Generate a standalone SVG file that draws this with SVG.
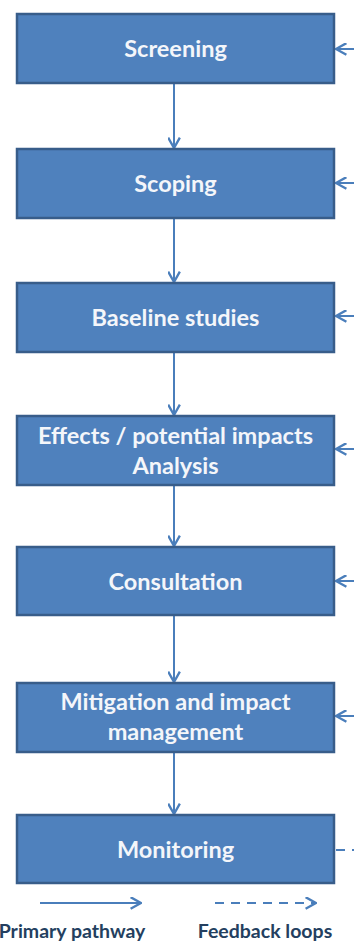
<svg xmlns="http://www.w3.org/2000/svg" width="354" height="947" viewBox="0 0 354 947">
<style>
.box{fill:#4F81BD;stroke:#385D8A;stroke-width:2.5}
.lbl{font-family:Lato,"Open Sans","Liberation Sans",sans-serif;font-weight:bold;font-size:23.5px;fill:#F4F6FA;text-anchor:middle}
.flow{stroke:#4A7EBB;stroke-width:2;fill:none}
.dash{stroke:#4A7EBB;stroke-width:2;fill:none;stroke-dasharray:9 7}
.leg{font-family:Lato,"Open Sans","Liberation Sans",sans-serif;font-weight:bold;font-size:19.5px;fill:#243F60;text-anchor:middle}
</style>
<defs>
<marker id="ah" markerWidth="13" markerHeight="13" refX="9" refY="5" orient="auto" markerUnits="userSpaceOnUse" viewBox="0 0 10 10">
<path d="M1,0.5 L9,5 L1,9.5" fill="none" stroke="#4A7EBB" stroke-width="1.8"/>
</marker>
</defs>
<rect width="354" height="947" fill="#FFFFFF"/>
<g id="connectors">
<line class="flow" x1="174" y1="83" x2="174" y2="148" marker-end="url(#ah)"/>
<line class="flow" x1="174" y1="218" x2="174" y2="282" marker-end="url(#ah)"/>
<line class="flow" x1="174" y1="352" x2="174" y2="415" marker-end="url(#ah)"/>
<line class="flow" x1="174" y1="485" x2="174" y2="546" marker-end="url(#ah)"/>
<line class="flow" x1="174" y1="615" x2="174" y2="682" marker-end="url(#ah)"/>
<line class="flow" x1="174" y1="752" x2="174" y2="814" marker-end="url(#ah)"/>
<line class="flow" x1="354" y1="49" x2="336" y2="49" marker-end="url(#ah)"/>
<line class="flow" x1="354" y1="183" x2="336" y2="183" marker-end="url(#ah)"/>
<line class="flow" x1="354" y1="316" x2="336" y2="316" marker-end="url(#ah)"/>
<line class="flow" x1="354" y1="449" x2="336" y2="449" marker-end="url(#ah)"/>
<line class="flow" x1="354" y1="581" x2="336" y2="581" marker-end="url(#ah)"/>
<line class="flow" x1="354" y1="716" x2="336" y2="716" marker-end="url(#ah)"/>
<line class="dash" x1="336" y1="850" x2="354" y2="850" stroke-dasharray="6 5"/>
</g>
<g id="n1"><rect class="box" x="17" y="14" width="317" height="69"/><text class="lbl" x="175.5" y="57">Screening</text></g>
<g id="n2"><rect class="box" x="17" y="149" width="317" height="69"/><text class="lbl" x="175.5" y="192">Scoping</text></g>
<g id="n3"><rect class="box" x="17" y="283" width="317" height="69"/><text class="lbl" x="175.5" y="326">Baseline studies</text></g>
<g id="n4"><rect class="box" x="17" y="416" width="317" height="69"/><text class="lbl" x="175.5" y="444">Effects / potential impacts</text><text class="lbl" x="175.5" y="474">Analysis</text></g>
<g id="n5"><rect class="box" x="17" y="547" width="317" height="68"/><text class="lbl" x="175.5" y="590">Consultation</text></g>
<g id="n6"><rect class="box" x="17" y="683" width="317" height="69"/><text class="lbl" x="175.5" y="710">Mitigation and impact</text><text class="lbl" x="175.5" y="740">management</text></g>
<g id="n7"><rect class="box" x="17" y="815" width="317" height="68"/><text class="lbl" x="175.5" y="858">Monitoring</text></g>
<g id="legend">
<line class="flow" x1="40" y1="903" x2="141" y2="903" marker-end="url(#ah)"/>
<line class="dash" x1="215" y1="903" x2="316" y2="903" marker-end="url(#ah)"/>
<text class="leg" x="72" y="938">Primary pathway</text>
<text class="leg" x="265" y="938">Feedback loops</text>
</g>
</svg>
